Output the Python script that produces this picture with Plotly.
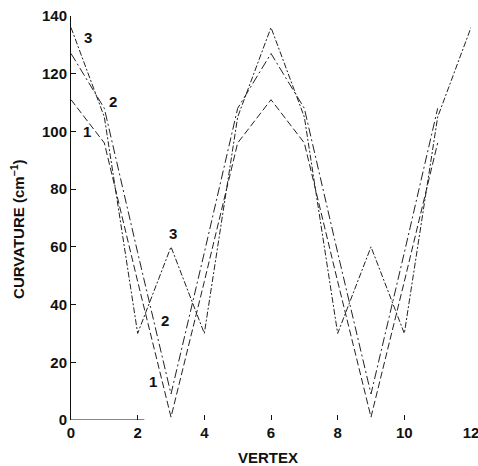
import plotly.graph_objects as go

# Curvature at each polygon vertex for the three contours
vertex = list(range(13))
curv_1 = [111, 96, 48, 1, 48, 96, 111, 96, 48, 1, 48, 96]
curv_2 = [127, 108, 58, 9, 58, 108, 127, 108, 58, 9, 58, 108]
curv_3 = [136, 105, 30, 60, 30, 105, 136, 105, 30, 60, 30, 105, 136]

x_ticks = [0, 2, 4, 6, 8, 10, 12]
y_ticks = [0, 20, 40, 60, 80, 100, 120, 140]

# curve labels: (text, x, y)
curve_labels = [
    ("3", 0.51, 132.7), ("2", 1.26, 110.2), ("1", 0.48, 100.1),
    ("3", 3.05, 64.5), ("2", 2.82, 34.6), ("1", 2.47, 13.3),
]

FONT = "Liberation Sans, Arial, sans-serif"
INK = "#111111"
TXT = dict(family=FONT, size=15, color=INK, weight="bold")

fig = go.Figure()
styles = [
    (curv_1, "7px,3px"),
    (curv_2, "9px,3px,2px,3px"),
    (curv_3, "6px,2px,2px,2px"),
]
for vals, dash in styles:
    fig.add_trace(go.Scatter(
        x=vertex[:len(vals)], y=vals, mode="lines",
        line=dict(color="#222222", width=1, dash=dash),
        showlegend=False, hoverinfo="skip",
    ))

for txt, lx, ly in curve_labels:
    fig.add_annotation(x=lx, y=ly, text=txt, showarrow=False, font=TXT,
                       xanchor="center", yanchor="middle")

# axis titles
fig.add_annotation(xref="paper", yref="paper", x=0.4925, y=-0.094,
                   text="VERTEX", showarrow=False, font=TXT,
                   xanchor="center", yanchor="middle")
fig.add_annotation(xref="paper", yref="paper", x=-0.1325, y=0.473,
                   text="CURVATURE (cm<sup>−1</sup>)", showarrow=False,
                   textangle=-90, font=TXT,
                   xanchor="center", yanchor="middle")

# short surviving stretch of the baseline
fig.add_shape(type="line", x0=0, x1=2.2, y0=0, y1=0,
              line=dict(color=INK, width=1))

fig.update_xaxes(range=[0, 12], tickvals=x_ticks, ticktext=[str(v) for v in x_ticks],
                 showgrid=False, zeroline=False, showline=False, automargin=False,
                 ticks="inside", ticklen=5, tickcolor=INK, tickwidth=1,
                 ticklabelstandoff=2, ticklabeloverflow="allow",
                 tickfont=TXT)
fig.update_yaxes(range=[0, 140], tickvals=y_ticks, ticktext=[str(v) for v in y_ticks],
                 showgrid=False, zeroline=False, showline=True, linecolor=INK, linewidth=1,
                 automargin=False,
                 ticks="inside", ticklen=5, tickcolor=INK, tickwidth=1,
                 ticklabelstandoff=0,
                 tickfont=TXT)

fig.update_layout(width=478, height=466,
                  margin=dict(l=71, r=7, t=16, b=46),
                  paper_bgcolor="white", plot_bgcolor="white")

fig.write_html("out.html")
